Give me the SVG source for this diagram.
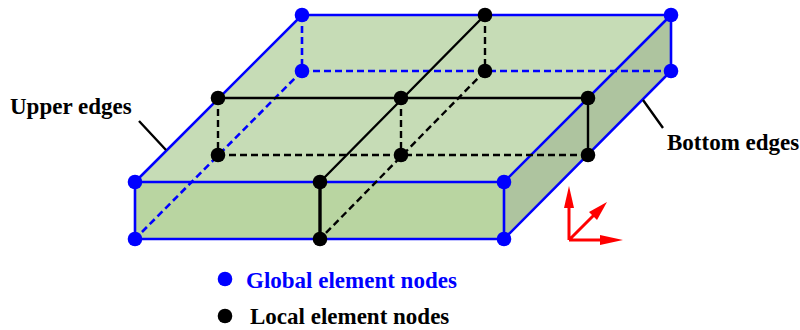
<svg xmlns="http://www.w3.org/2000/svg" width="800" height="330" viewBox="0 0 800 330">
  <style>
    .blue{stroke:#0000ff;stroke-width:2.6;fill:none}
    .bd{stroke:#0000ff;stroke-width:2.6;fill:none;stroke-dasharray:7 4}
    .blk{stroke:#000;stroke-width:2.4;fill:none}
    .kd{stroke:#000;stroke-width:2.4;fill:none;stroke-dasharray:7 4}
    .thick{stroke:#000;stroke-width:3.4;fill:none}
    .g{fill:#0000ff}
    .l{fill:#000}
    .red{stroke:#ff0000;stroke-width:3;fill:none}
    .rh{fill:#ff0000}
    text{font-family:"Liberation Serif","Times New Roman",serif;font-weight:bold;font-size:23px}
  </style>
  <g id="faces">
    <polygon points="135,182 302,15 671,15 504,182" fill="#c6dcb6"/>
    <polygon points="135,182 504,182 504,239 135,239" fill="#b9d5a1"/>
    <polygon points="504,182 671,15 671,71 504,239" fill="#aec49f"/>
  </g>
  <g id="connectors">
    <path class="bd" d="M302,15V71M302,71H671M302,71L135,239"/>
    <path class="blue" d="M135,182L302,15H671V71L504,239H135V182H504V239M504,182L671,15"/>
    <path class="blk" d="M218,98H588V155M485,15L320,182"/>
    <path class="thick" d="M320,182V239"/>
    <path class="kd" d="M485,15V71M485,71L320,239M218,98V155M401,98V155M218,155H588"/>
    <path class="blk" d="M139,121L166,150M643,100L663,128"/>
  </g>
  <g id="axes">
    <path class="red" d="M569,240V205M569,240H604M569,240L594,215"/>
    <polygon class="rh" points="569,186 574,208 564,208"/>
    <polygon class="rh" points="623,240 600,235 600,245"/>
    <polygon class="rh" points="607,202 597,220 589,212"/>
  </g>
  <g id="global-nodes">
    <circle class="g" cx="302" cy="15" r="7.3"/><circle class="g" cx="671" cy="15" r="7.3"/>
    <circle class="g" cx="302" cy="71" r="7.3"/><circle class="g" cx="671" cy="71" r="7.3"/>
    <circle class="g" cx="135" cy="182" r="7.3"/><circle class="g" cx="504" cy="182" r="7.3"/>
    <circle class="g" cx="135" cy="239" r="7.3"/><circle class="g" cx="504" cy="239" r="7.3"/>
  </g>
  <g id="local-nodes">
    <circle class="l" cx="485" cy="15" r="7.3"/><circle class="l" cx="485" cy="71" r="7.3"/>
    <circle class="l" cx="218" cy="98" r="7.3"/><circle class="l" cx="401" cy="98" r="7.3"/><circle class="l" cx="588" cy="98" r="7.3"/>
    <circle class="l" cx="218" cy="155" r="7.3"/><circle class="l" cx="401" cy="155" r="7.3"/><circle class="l" cx="588" cy="155" r="7.3"/>
    <circle class="l" cx="320" cy="182" r="7.3"/><circle class="l" cx="320" cy="239" r="7.3"/>
  </g>
  <g id="labels">
    <text x="10" y="114">Upper edges</text>
    <text x="667" y="150">Bottom edges</text>
    <circle class="g" cx="225" cy="279" r="7.3"/>
    <text x="246" y="288" fill="#0000ff">Global element nodes</text>
    <circle class="l" cx="225" cy="316" r="7.3"/>
    <text x="250" y="324">Local element nodes</text>
  </g>
</svg>
